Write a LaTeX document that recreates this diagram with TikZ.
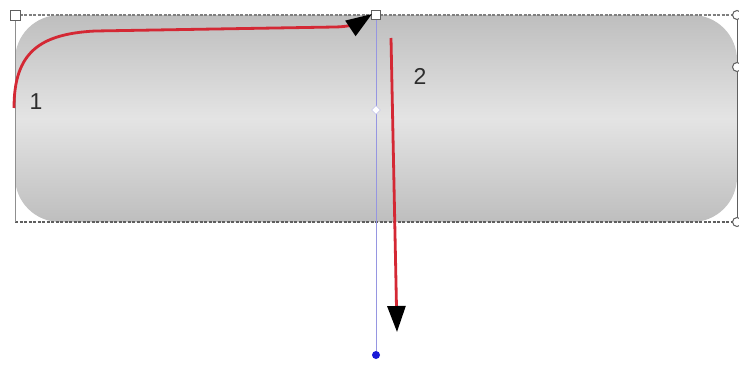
\documentclass[tikz,border=0pt]{standalone}
\usepackage{fontspec}
\setmainfont{Liberation Sans}
\usetikzlibrary{arrows.meta,shapes.geometric}
\definecolor{redline}{RGB}{212,40,52}
\definecolor{bluel}{RGB}{150,150,225}
\definecolor{bluedot}{RGB}{25,25,215}
\definecolor{gtop}{RGB}{190,190,190}
\definecolor{gmid}{RGB}{228,228,228}
\definecolor{edgec}{RGB}{95,95,95}
\definecolor{txt}{RGB}{45,45,45}
\begin{document}
\begin{tikzpicture}[x=1pt,y=-1pt,
  handle/.style={draw=edgec, fill=white, rectangle, minimum size=9pt, inner sep=0pt, line width=1pt},
  rhandle/.style={draw=edgec, fill=white, circle, minimum size=9pt, inner sep=0pt, line width=1pt},
  redarrow/.style={draw=redline, line width=2.8pt, -{Triangle[length=26pt,width=18pt,color=black]}},
  lbl/.style={text=txt, font=\fontsize{23}{23}\selectfont, inner sep=0pt}]
\useasboundingbox (0,0) rectangle (739,367);
% body
\shade[top color=gtop, bottom color=gtop, middle color=gmid, rounded corners=45pt] (15,15) rectangle (737,222);
% selection box
\draw[edgec!80, dash pattern=on 3pt off 1.5pt, line width=1.4pt] (15,15) -- (737,15);
\draw[edgec, dash pattern=on 3pt off 1.5pt, line width=1.8pt] (15,222) -- (737,222);
\draw[edgec!70, line width=0.9pt] (15,15) -- (15,222);
\draw[edgec, line width=1pt] (737,15) -- (737,222);
% blue guide line
\node[handle, minimum size=9pt] (ht) at (376,15) {};
\node[circle, fill=bluedot, minimum size=8pt, inner sep=0pt] (bd) at (376,355) {};
\draw[bluel, line width=1pt] (ht) -- (bd);
\node[diamond, draw=bluel!70, fill=white, minimum size=9pt, inner sep=0pt] (hm) at (376,110) {};
% handles
\node[handle, minimum size=10pt] (hl) at (15,15) {};
\node[rhandle] (hr1) at (737,15) {};
\node[rhandle] (hr2) at (737,67) {};
\node[rhandle] (hr3) at (737,222) {};
% arrow 1
\coordinate (s1) at (14,108);
\coordinate (e1) at (372,14);
\draw[redarrow] (s1) .. controls (14,52) and (40,34) .. (95,31) -- (335,27) .. controls (350,27) and (360,22) .. (e1);
% arrow 2
\coordinate (s2) at (391,38);
\coordinate (e2) at (397,332);
\draw[redarrow] (s2) -- (e2);
% labels
\node[lbl] (l1) at (36,102) {1};
\node[lbl] (l2) at (420,76) {2};
\end{tikzpicture}
\end{document}
